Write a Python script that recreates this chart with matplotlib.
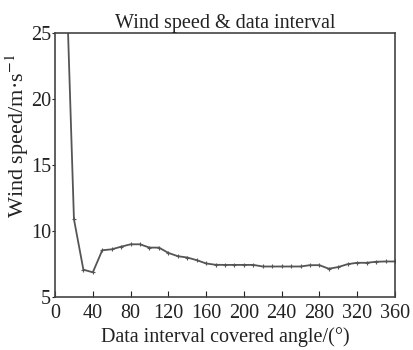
import matplotlib
matplotlib.use("Agg")
import matplotlib.pyplot as plt

# Данные: угол покрытия интервала и скорость ветра
angles = [10, 20, 30, 40, 50, 60, 70, 80, 90, 100, 110, 120, 130, 140, 150,
          160, 170, 180, 190, 200, 210, 220, 230, 240, 250, 260, 270, 280,
          290, 300, 310, 320, 330, 340, 350, 360]
speeds = [33.5, 10.9, 7.08, 6.88, 8.55, 8.62, 8.82, 9.0, 9.0, 8.75, 8.75, 8.35,
          8.1, 8.0, 7.8, 7.55, 7.45, 7.44, 7.44, 7.44, 7.44, 7.32, 7.32, 7.32,
          7.32, 7.32, 7.42, 7.42, 7.15, 7.28, 7.5, 7.6, 7.6, 7.68, 7.7, 7.7]
x_ticks = [0, 40, 80, 120, 160, 200, 240, 280, 320, 360]
y_ticks = [5, 10, 15, 20, 25]

plt.rcParams['font.family'] = ['Liberation Serif', 'DejaVu Serif']
plt.rcParams['mathtext.fontset'] = 'stix'

fig = plt.figure(figsize=(4.14, 3.5), dpi=100)
ax = fig.add_axes([0.133, 0.151, 0.821, 0.755])

ax.plot(angles, speeds, color='#555555', linewidth=1.3,
        marker='+', markersize=3.5, markeredgewidth=0.8)

ax.set_xlim(0, 360)
ax.set_ylim(5, 25)
ax.set_xticks(x_ticks)
ax.set_yticks(y_ticks)
ax.tick_params(labelsize=14.5, colors='#222222')
ax.tick_params(axis='x', direction='in', length=4, pad=5)
ax.tick_params(axis='y', direction='out', length=2.5, pad=0.5)
for sp in ax.spines.values():
    sp.set_color('#444444')
    sp.set_linewidth(1.2)

ax.set_title('Wind speed & data interval', fontsize=14.5, pad=2, color='#222222')
ax.set_xlabel('Data interval covered angle/(°)', fontsize=14.5, labelpad=3,
              color='#222222')
ax.set_ylabel('Wind speed/m·s$^{-1}$', fontsize=16, labelpad=1,
              color='#222222')
ax.yaxis.set_label_coords(-0.07, 0.61)

fig.savefig('out.png', dpi=100)
plt.close(fig)
